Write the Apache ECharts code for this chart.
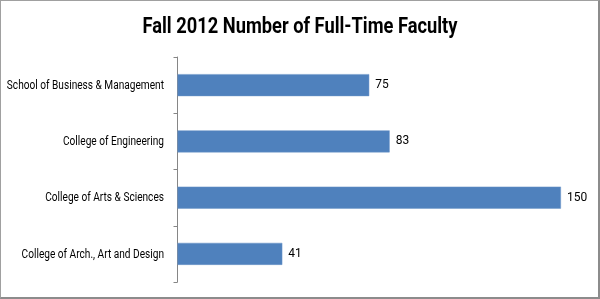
<!DOCTYPE html>
<html><head><meta charset="utf-8">
<script src="https://cdn.jsdelivr.net/npm/echarts@6/dist/echarts.min.js"></script>
<style>
html,body{margin:0;padding:0;background:#fff;}
#wrap{position:absolute;left:0;top:0;width:597px;height:296px;border-left:1px solid #a0a0a0;border-top:1px solid #a0a0a0;border-right:2px solid #8c8c8c;border-bottom:2px solid #8c8c8c;}
#c{width:597px;height:296px;}
</style></head>
<body><div id="wrap"><div id="c"></div></div>
<script>
const title = 'Fall 2012 Number of Full-Time Faculty';
const categories = ['School of Business & Management','College of Engineering','College of Arts & Sciences','College of Arch., Art and Design'];
const values = [75, 83, 150, 41];

const F = 'Roboto, "Liberation Sans", sans-serif';
const titleFont = 'bold 22.5px ' + F;
const labelFont = '12.5px ' + F;

// measure to emulate a narrow (Calibri-like) face
const mctx = document.createElement('canvas').getContext('2d');
mctx.font = titleFont; const titleScale = 315 / mctx.measureText(title).width;
mctx.font = labelFont; const labelScale = 101 / mctx.measureText('College of Engineering').width;

const chart = echarts.init(document.getElementById('c'), null, {renderer:'canvas'});
chart.setOption({
  animation:false,
  grid:{left:176.5,top:56,width:409,height:225,outerBoundsMode:'none',containLabel:false},
  xAxis:{type:'value',min:0,max:160,show:false},
  yAxis:{type:'category',inverse:true,data:categories,
    axisLine:{lineStyle:{color:'#868686',width:1}},
    axisTick:{show:true,length:4,lineStyle:{color:'#868686'}},
    axisLabel:{show:false}},
  series:[{type:'bar',data:values,barWidth:22,
    itemStyle:{color:'#4F81BD',borderColor:'#6a95c8',borderWidth:0.5},
    label:{show:true,position:'right',distance:6,fontFamily:F,fontSize:12,color:'#000'}}]
});

const graphics = [{type:'text', x: chart.getWidth()/2 + 0.5, y: 26, scaleX: titleScale,
  style:{text:title, font:titleFont, fill:'#000', align:'center', verticalAlign:'middle'}}];
categories.forEach((c, i) => {
  const p = chart.convertToPixel({gridIndex:0}, [0, i]);
  graphics.push({type:'text', x: p[0] - 13.5, y: p[1] + 0.5, scaleX: labelScale,
    style:{text:c, font:labelFont, fill:'#000', align:'right', verticalAlign:'middle'}});
});
chart.setOption({graphic: graphics});
</script></body></html>
